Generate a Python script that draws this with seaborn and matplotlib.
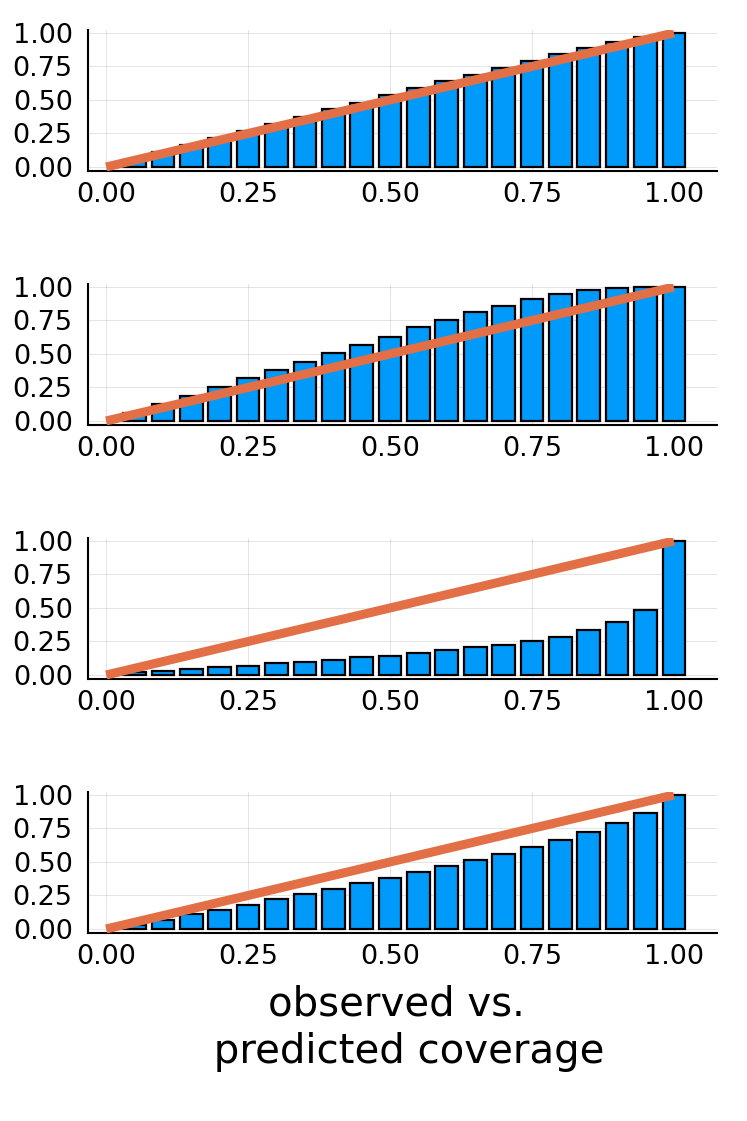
import numpy as np
import pandas as pd
import seaborn as sns
import matplotlib
matplotlib.use("Agg")
import matplotlib.pyplot as plt

# predicted coverage levels (bar positions)
predicted = [0.05, 0.10, 0.15, 0.20, 0.25, 0.30, 0.35, 0.40, 0.45, 0.50,
             0.55, 0.60, 0.65, 0.70, 0.75, 0.80, 0.85, 0.90, 0.95, 1.00]

# observed coverage
observed_1 = [0.055, 0.11, 0.165, 0.22, 0.27, 0.32, 0.375, 0.43, 0.48, 0.535,
              0.59, 0.64, 0.69, 0.74, 0.79, 0.84, 0.885, 0.93, 0.97, 1.00]
observed_2 = [0.06, 0.13, 0.19, 0.25, 0.32, 0.38, 0.44, 0.51, 0.57, 0.63,
              0.70, 0.755, 0.81, 0.86, 0.91, 0.945, 0.975, 0.99, 0.997, 1.00]
observed_3 = [0.02, 0.03, 0.045, 0.06, 0.07, 0.087, 0.10, 0.114, 0.134, 0.144,
              0.164, 0.184, 0.206, 0.226, 0.25, 0.286, 0.333, 0.393, 0.488, 1.00]
observed_4 = [0.03, 0.07, 0.11, 0.145, 0.18, 0.226, 0.26, 0.30, 0.34, 0.38,
              0.425, 0.468, 0.515, 0.562, 0.612, 0.667, 0.724, 0.788, 0.863, 1.00]

diag_x = [0.0, 1.0]
diag_y = [0.0, 1.0]

ticks = [0.0, 0.25, 0.5, 0.75, 1.0]
tick_labels = ["0.00", "0.25", "0.50", "0.75", "1.00"]

bar_color = "#009AFA"
line_color = "#E26F46"

sns.set_style("white")
plt.rcParams['font.family'] = ['DejaVu Sans']

W, H = 747, 1121
fig = plt.figure(figsize=(W / 100, H / 100), dpi=100)

panels = [observed_1, observed_2, observed_3, observed_4]
tops = [30.3, 284.3, 538.3, 792.3]
ax_h = 140.7

for i, obs in enumerate(panels):
    left = 88 / W
    width = (717 - 88) / W
    bottom = 1 - (tops[i] + ax_h) / H
    ax = fig.add_axes([left, bottom, width, ax_h / H])

    df = pd.DataFrame({'predicted': predicted, 'observed': obs})
    sns.barplot(data=df, x='predicted', y='observed', native_scale=True,
                width=0.8, color=bar_color, saturation=1, errorbar=None,
                edgecolor='black', linewidth=1.6, ax=ax, zorder=2)
    sns.lineplot(x=diag_x, y=diag_y, color=line_color, linewidth=6.5,
                 ax=ax, zorder=3, solid_capstyle='butt')

    ax.set_xlim(-0.032, 1.076)
    ax.set_ylim(-0.03, 1.02)
    ax.set_xticks(ticks)
    ax.set_xticklabels(tick_labels)
    ax.set_yticks(ticks)
    ax.set_yticklabels(tick_labels)
    ax.set_xlabel('')
    ax.set_ylabel('')

    ax.grid(True, color='black', alpha=0.1, linewidth=0.8)
    ax.set_axisbelow(True)
    for s in ['top', 'right']:
        ax.spines[s].set_visible(False)
    for s in ['left', 'bottom']:
        ax.spines[s].set_color('black')
        ax.spines[s].set_linewidth(1.5)
    ax.tick_params(axis='both', direction='in', length=7, width=1.5,
                   labelsize=19.5, colors='black')
    ax.tick_params(axis='y', pad=11)
    ax.tick_params(axis='x', pad=8)

    if i == 3:
        ax.set_xlabel('observed vs. \n predicted coverage', fontsize=29,
                      color='black', labelpad=10, linespacing=1.25)

fig.savefig('out.png', dpi=100)
